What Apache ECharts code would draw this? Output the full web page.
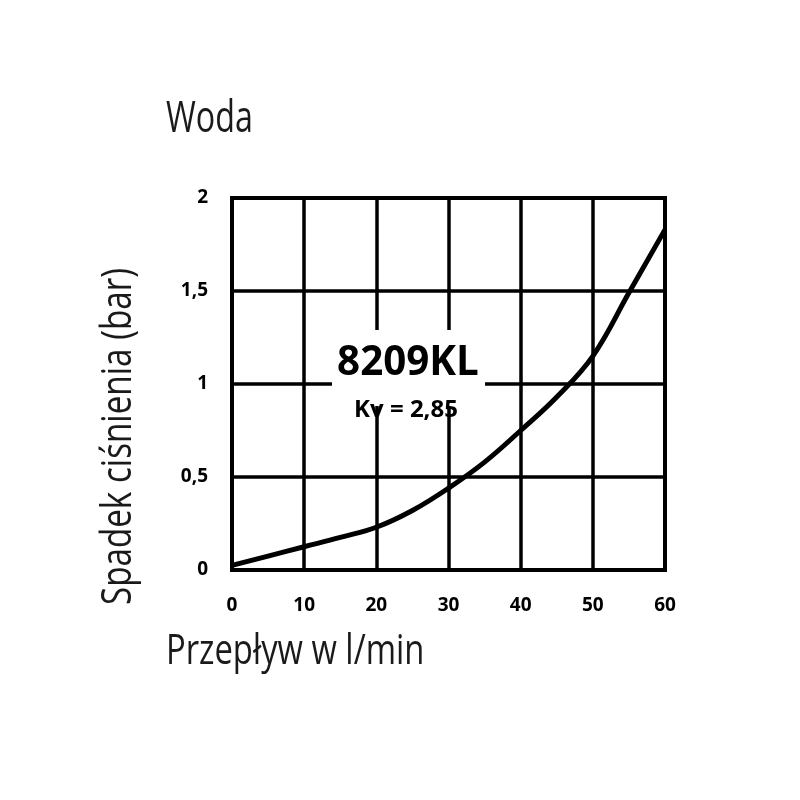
<!DOCTYPE html>
<html><head><meta charset="utf-8">
<script src="https://cdn.jsdelivr.net/npm/echarts@6/dist/echarts.min.js"></script>
<style>html,body{margin:0;padding:0;background:#fff}#c{width:800px;height:800px}</style>
</head><body><div id="c"></div>
<script>
const flow = [0, 5, 10, 15, 20, 25, 30, 35, 40, 45, 50, 55, 60];
const pressure = [0.025, 0.075, 0.125, 0.175, 0.23, 0.32, 0.44, 0.58, 0.75, 0.93, 1.15, 1.49, 1.83];
const xTicks = [0, 10, 20, 30, 40, 50, 60];
const yTicks = [0, 0.5, 1, 1.5, 2];
const titleText = 'Woda';
const xName = 'Przepływ w l/min';
const yName = 'Spadek ciśnienia (bar)';
const modelText = '8209KL';
const kvText = 'Kv = 2,85';

const chart = echarts.init(document.getElementById('c'), null, {renderer: 'canvas'});
const baseFont = '"Open Sans", sans-serif';
chart.setOption({
  backgroundColor: '#fff',
  animation: false,
  grid: {left: 232, right: 135, top: 198, bottom: 230, show: true, borderColor: '#000', borderWidth: 4},
  xAxis: {
    type: 'value', min: 0, max: 60, interval: 10,
    axisLine: {show: false}, axisTick: {show: false},
    splitLine: {show: true, lineStyle: {color: '#000', width: 3.5}},
    axisLabel: {color: '#000', fontSize: 19, fontWeight: 'bold', fontFamily: baseFont, margin: 26,
      formatter: v => xTicks.includes(v) ? String(v) : ''}
  },
  yAxis: {
    type: 'value', min: 0, max: 2, interval: 0.5,
    axisLine: {show: false}, axisTick: {show: false},
    splitLine: {show: true, lineStyle: {color: '#000', width: 3.5}},
    axisLabel: {color: '#000', fontSize: 19, fontWeight: 'bold', fontFamily: baseFont, margin: 24,
      formatter: v => yTicks.includes(v) ? String(v).replace('.', ',') : ''}
  },
  series: [{
    type: 'line', data: flow.map((x, i) => [x, pressure[i]]),
    smooth: 0.4, symbol: 'none', clip: true,
    lineStyle: {color: '#000', width: 5}, z: 5
  }],
  graphic: [
    {type: 'rect', shape: {x: 332, y: 330, width: 153, height: 76}, style: {fill: '#fff'}, z: 10},
    {type: 'text', x: 166, y: 141, scaleX: 0.75, z: 20,
      style: {text: titleText, fontSize: 43, fontFamily: baseFont, fill: '#1a1a1a', textVerticalAlign: 'bottom'}},
    {type: 'text', x: 166, y: 673, scaleX: 0.78, z: 20,
      style: {text: xName, fontSize: 42, fontFamily: baseFont, fill: '#1a1a1a', textVerticalAlign: 'bottom'}},
    {type: 'text', x: 98, y: 605, rotation: Math.PI / 2, scaleX: 0.79, z: 20,
      style: {text: yName, fontSize: 42, fontFamily: baseFont, fill: '#1a1a1a', textAlign: 'left', textVerticalAlign: 'top'}},
    {type: 'text', x: 408, y: 363, scaleX: 0.96, z: 20,
      style: {text: modelText, fontSize: 42, fontWeight: 'bold', fontFamily: baseFont, fill: '#000', textAlign: 'center', textVerticalAlign: 'middle'}},
    {type: 'text', x: 406, y: 410, z: 20,
      style: {text: kvText, fontSize: 24, fontWeight: 'bold', fontFamily: baseFont, fill: '#000', textAlign: 'center', textVerticalAlign: 'middle'}}
  ]
});
</script></body></html>
